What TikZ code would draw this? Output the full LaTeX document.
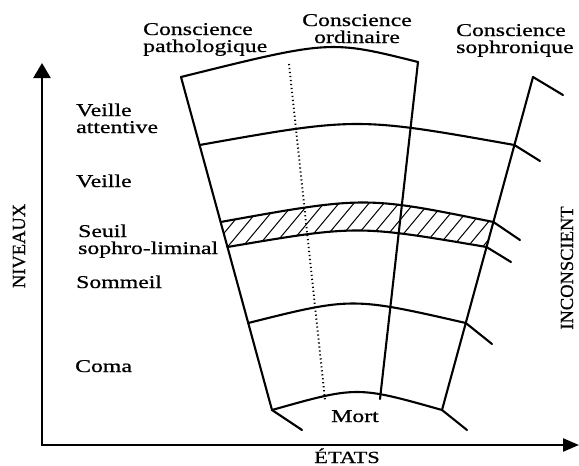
\documentclass[tikz,border=0pt]{standalone}
\usepackage{fontspec}
\setmainfont{Liberation Serif}
\newfontfamily\widefont{Liberation Serif}[FakeStretch=1.32,FakeBold=0.8]
\newfontfamily\capfont{Liberation Serif}[FakeBold=0.6]
\usetikzlibrary{arrows.meta}
\begin{document}
\begin{tikzpicture}[x=1pt,y=-1pt,
  curve/.style={line width=2.1pt, line cap=round, line join=round},
  tickline/.style={line width=2.1pt, line cap=round},
  axis/.style={line width=2.4pt},
  lbl/.style={inner sep=0pt, font=\widefont\fontsize{18}{17}\selectfont},
  side/.style={inner sep=0pt, font=\capfont\fontsize{18.5}{18.5}\selectfont, rotate=90, anchor=base},
  hatch/.style={line width=1pt},
  dotline/.style={line width=1.9pt, dash pattern=on 1.2pt off 2.8pt}
]
\useasboundingbox (0,0) rectangle (579,466);
% axes
\coordinate (O) at (42,445);
\coordinate (Ytip) at (42,63);
\coordinate (Xtip) at (579,445);
\draw[axis, {Triangle[length=15pt,width=17pt]}-{Triangle[length=16pt,width=13pt]}] (Ytip) -- (O) -- (Xtip);
% key points
\coordinate (P0) at (181,77);
\coordinate (P1) at (199.6,145);
\coordinate (P2) at (220.6,222);
\coordinate (P3) at (227.5,247);
\coordinate (P4) at (248.2,323);
\coordinate (P5) at (272,410);
\coordinate (S0) at (533,77);
\coordinate (S1) at (514.4,145);
\coordinate (S2) at (493.4,222);
\coordinate (S3) at (486.5,247);
\coordinate (S4) at (465.8,323);
\coordinate (S5) at (442,410);
\coordinate (O0) at (418,62);
\coordinate (O5) at (380,399);
\coordinate (D0) at (289,64);
\coordinate (D5) at (325,399.5);
\coordinate (T0) at (563,95);
\coordinate (T1) at (540,161);
\coordinate (T2) at (520,240);
\coordinate (T3) at (511,262);
\coordinate (T4) at (492,344);
\coordinate (T5) at (467,430);
\coordinate (T6) at (302,430);
% hatching of the threshold band
\begin{scope}
  \clip (P2) .. controls (365,196) .. (S2) -- (S3) .. controls (357,225) .. (P3) -- cycle;
  \foreach \i in {0,...,26} \draw[hatch] (140+15*\i,262) -- ++(50,-60);
\end{scope}
% dotted line
\draw[dotline] (D0) -- (D5);
% radial lines
\draw[curve] (P0) -- (P5);
\draw[curve] (S0) -- (S5);
\draw[curve] (O0) -- (O5);
% arcs
\draw[curve] (P0) .. controls (330,40) .. (O0);
\draw[curve] (P1) .. controls (357,117) .. (S1);
\draw[curve] (P2) .. controls (365,196) .. (S2);
\draw[curve] (P3) .. controls (357,225) .. (S3);
\draw[curve] (P4) .. controls (352,297) .. (S4);
\draw[curve] (P5) .. controls (357,386) .. (S5);
% ticks
\draw[tickline] (S0) -- (T0);
\draw[tickline] (S1) -- (T1);
\draw[tickline] (S2) -- (T2);
\draw[tickline] (S3) -- (T3);
\draw[tickline] (S4) -- (T4);
\draw[tickline] (S5) -- (T5);
\draw[tickline] (P5) -- (T6);
% labels (base anchor = baseline of the last line)
\node[lbl, align=left, anchor=base west] (cp) at (143,52) {Conscience\\pathologique};
\node[lbl, align=center, anchor=base] (co) at (357,43) {Conscience\\ordinaire};
\node[lbl, align=left, anchor=base west] (cs) at (456,53) {Conscience\\sophronique};
\node[lbl, align=left, anchor=base west] (va) at (76,133) {Veille\\attentive};
\node[lbl, anchor=base west] (ve) at (76,187) {Veille};
\node[lbl, align=left, anchor=base west] (ss) at (78,254) {Seuil\\sophro-liminal};
\node[lbl, anchor=base west] (so) at (76,288) {Sommeil};
\node[lbl, anchor=base west] (cm) at (75,372) {Coma};
\node[lbl, anchor=base] (mo) at (355,422) {Mort};
\node[lbl, anchor=base, font=\widefont\fontsize{17}{17}\selectfont] (et) at (347,463) {ÉTATS};
\node[side] (ni) at (25,246) {NIVEAUX};
\node[side] (in) at (573,268) {INCONSCIENT};
\end{tikzpicture}
\end{document}
